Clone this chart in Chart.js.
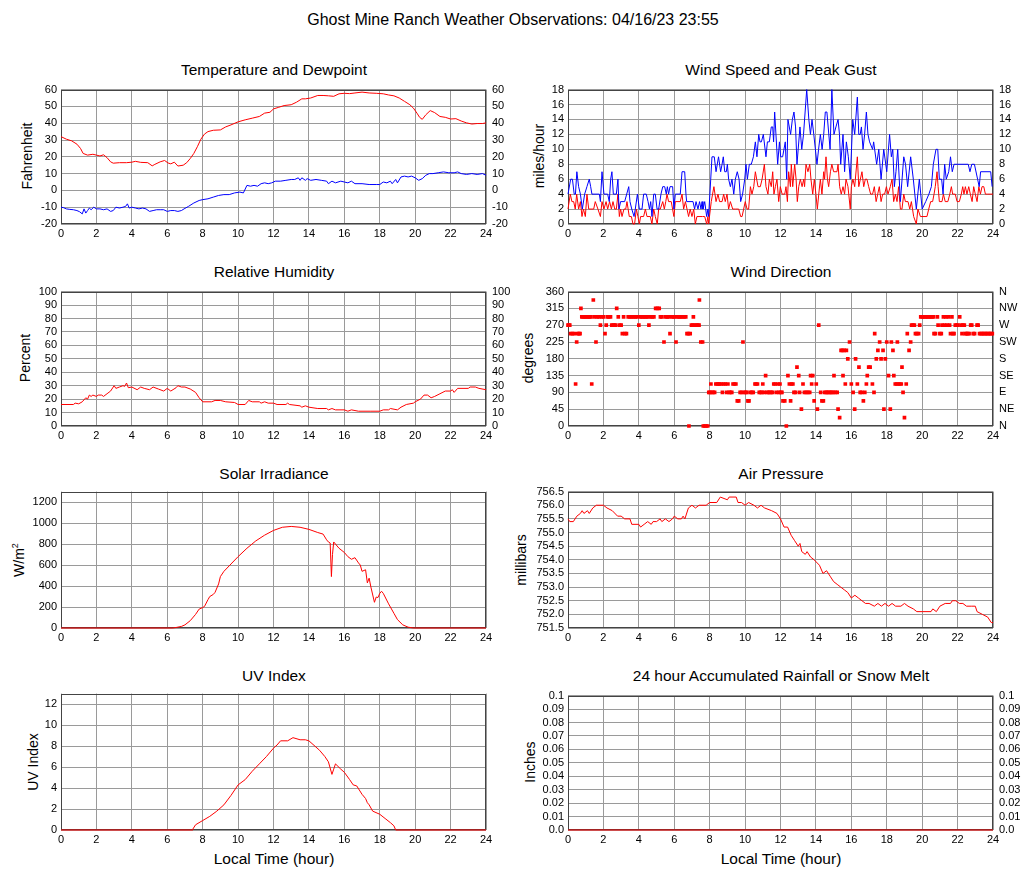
<!DOCTYPE html>
<html>
<head>
<meta charset="utf-8">
<title>Ghost Mine Ranch Weather Observations</title>
<script src="https://cdn.jsdelivr.net/npm/chart.js@4.4.0/dist/chart.umd.min.js"></script>
<style>
  html, body { margin: 0; padding: 0; background: #fff; }
  body { width: 1027px; height: 878px; position: relative; overflow: hidden;
         font-family: "Liberation Sans", Arial, Helvetica, sans-serif; color: #000; }
  canvas { position: absolute; }
  .lbl { position: absolute; white-space: nowrap; transform: translate(-50%, -50%); line-height: 1; }
  .main { font-size: 16px; }
  .ttl { font-size: 15.5px; }
  .ylab { font-size: 14px; transform: translate(-50%, -50%) rotate(-90deg); }
  .xlab { font-size: 15.5px; }
  sup { font-size: 9px; vertical-align: 6px; }
</style>
</head>
<body>

<div class="lbl main" style="left:513px; top:20px;">Ghost Mine Ranch Weather Observations: 04/16/23 23:55</div>

<div class="lbl ttl" style="left:274px; top:70px;">Temperature and Dewpoint</div>
<div class="lbl ttl" style="left:781px; top:70px;">Wind Speed and Peak Gust</div>
<div class="lbl ttl" style="left:274px; top:272px;">Relative Humidity</div>
<div class="lbl ttl" style="left:781px; top:272px;">Wind Direction</div>
<div class="lbl ttl" style="left:274px; top:474px;">Solar Irradiance</div>
<div class="lbl ttl" style="left:781px; top:474px;">Air Pressure</div>
<div class="lbl ttl" style="left:274px; top:676px;">UV Index</div>
<div class="lbl ttl" style="left:781px; top:676px;">24 hour Accumulated Rainfall or Snow Melt</div>

<div class="lbl ylab" style="left:27px; top:156px;">Fahrenheit</div>
<div class="lbl ylab" style="left:539px; top:156px;">miles/hour</div>
<div class="lbl ylab" style="left:25px; top:358px;">Percent</div>
<div class="lbl ylab" style="left:528px; top:358px;">degrees</div>
<div class="lbl ylab" style="left:18px; top:560px;">W/m<sup>2</sup></div>
<div class="lbl ylab" style="left:521px; top:560px;">millibars</div>
<div class="lbl ylab" style="left:33px; top:762px;">UV Index</div>
<div class="lbl ylab" style="left:530px; top:762px;">Inches</div>

<div class="lbl xlab" style="left:274px; top:859px;">Local Time (hour)</div>
<div class="lbl xlab" style="left:781px; top:859px;">Local Time (hour)</div>

<canvas id="chart-temp" width="512" height="167" style="left:0px; top:77px;"></canvas>
<canvas id="chart-wind" width="515" height="167" style="left:512px; top:77px;"></canvas>
<canvas id="chart-rh" width="512" height="167" style="left:0px; top:279px;"></canvas>
<canvas id="chart-dir" width="515" height="167" style="left:512px; top:279px;"></canvas>
<canvas id="chart-solar" width="512" height="167" style="left:0px; top:481px;"></canvas>
<canvas id="chart-pressure" width="515" height="167" style="left:512px; top:481px;"></canvas>
<canvas id="chart-uv" width="512" height="167" style="left:0px; top:683px;"></canvas>
<canvas id="chart-rain" width="515" height="167" style="left:512px; top:683px;"></canvas>

<script>
// ---- data: [hour, value] pairs ----
const hourTicks = [0, 2, 4, 6, 8, 10, 12, 14, 16, 18, 20, 22, 24];
const compassLabels = ['N', 'NE', 'E', 'SE', 'S', 'SW', 'W', 'NW', 'N'];

const temperature = [[0,32],[0.3,30.5],[0.6,29.5],[0.9,27.5],[1.1,25],[1.25,22],[1.5,21],[1.8,21.5],[2.0,21],[2.2,20.5],[2.4,21.2],[2.6,19.5],[2.8,17],[2.95,16.2],[3.3,16.5],[3.7,16.5],[4.0,16.8],[4.2,17.3],[4.5,16.7],[4.9,16.5],[5.15,14.6],[5.3,15.5],[5.6,17],[5.85,17.8],[6.05,16.3],[6.2,15.8],[6.4,16.8],[6.6,14.5],[6.9,15],[7.1,16.5],[7.3,19],[7.5,22],[7.7,26],[7.9,30.5],[8.1,33.5],[8.3,35],[8.6,35.8],[9.0,36],[9.3,37.8],[9.6,39],[10.0,40.8],[10.4,42],[10.8,43],[11.2,44],[11.5,46],[11.8,46.5],[12.0,48.5],[12.3,49.5],[12.6,50.5],[13.0,51],[13.3,52.5],[13.6,54.5],[13.8,54.5],[14.1,55],[14.5,56.5],[14.8,56.5],[15.1,56.3],[15.4,56],[15.7,57.5],[16.0,57.8],[16.3,57.6],[16.6,58],[17.0,58.5],[17.4,58],[17.8,57.8],[18.2,57.5],[18.5,56.8],[18.8,56.3],[19.1,55],[19.4,53],[19.7,51],[19.9,49],[20.1,46],[20.25,43.5],[20.4,42.3],[20.6,45],[20.85,47.5],[21.1,46.3],[21.4,44],[21.7,43.5],[22.0,42.5],[22.3,42.7],[22.6,41.3],[22.9,40.2],[23.2,39.5],[23.5,39.8],[23.8,39.8],[24.0,40.2]];

const dewpoint = [[0,-10],[0.15,-10.3],[0.3,-11],[0.5,-11.3],[0.7,-11.5],[0.9,-12],[1.05,-12.7],[1.2,-14],[1.3,-11],[1.4,-13.5],[1.5,-12],[1.6,-10.5],[1.7,-11.5],[1.85,-10],[2.0,-11],[2.2,-11],[2.4,-11.5],[2.6,-11],[2.8,-12.5],[2.95,-12],[3.1,-10],[3.3,-10.5],[3.5,-10],[3.65,-9.5],[3.75,-8],[3.85,-10.5],[4.0,-10],[4.2,-10.5],[4.4,-11],[4.6,-10.5],[4.8,-11],[5.0,-12.5],[5.2,-12],[5.4,-11.5],[5.6,-11.5],[5.8,-11.5],[6.0,-12.5],[6.2,-12],[6.4,-12],[6.6,-12.5],[6.8,-12],[6.95,-11],[7.2,-9.5],[7.5,-7.5],[7.8,-6],[8.0,-5.5],[8.3,-5],[8.6,-4],[8.9,-3],[9.2,-2.5],[9.5,-2.5],[9.8,-1.5],[10.1,-1],[10.3,-1.5],[10.5,3],[10.7,2.5],[10.9,3],[11.1,2.5],[11.3,4],[11.5,4.5],[11.7,4],[11.9,4.5],[12.1,5.5],[12.4,5.5],[12.7,6],[13.0,6.5],[13.2,6.5],[13.4,7.5],[13.5,6],[13.6,7.5],[13.8,6],[13.9,7],[14.1,6],[14.4,6.5],[14.7,6],[15.0,5.5],[15.1,4],[15.3,5.5],[15.5,4.5],[15.8,5.5],[16.0,5],[16.2,4.5],[16.4,5.5],[16.6,4],[17.0,4],[17.4,3.5],[17.8,3.5],[18.0,3.5],[18.2,5],[18.4,4.5],[18.6,5.5],[18.7,4],[18.9,6.5],[19.0,4.5],[19.2,8],[19.4,8.5],[19.6,8],[19.8,8.5],[20.0,7.5],[20.2,6],[20.4,7],[20.6,9],[20.8,10],[21.0,10],[21.3,10.5],[21.6,11],[21.9,10.5],[22.2,10.5],[22.4,11],[22.6,10],[22.9,9.5],[23.2,10],[23.5,9.5],[23.8,10],[24.0,9]];

const windGust = [[0,4],[0.15,6],[0.25,6],[0.35,4],[0.42,4],[0.5,7],[0.6,5],[0.7,4],[0.81,2],[0.94,4],[1.07,5],[1.2,6],[1.28,5],[1.35,4],[1.77,4],[1.83,3],[1.92,7],[2.03,4],[2.24,4],[2.33,3],[2.41,6],[2.48,7],[2.56,4],[2.73,4],[2.82,6],[2.88,2],[2.97,3],[3.2,3],[3.43,5],[3.5,3],[3.6,2],[3.73,1],[3.8,2],[3.92,4],[4.03,2],[4.18,2],[4.27,4],[4.42,4],[4.52,3],[4.6,2],[4.67,3],[4.74,1],[4.84,4],[4.93,4],[5.03,2],[5.12,2],[5.25,4],[5.35,5],[5.46,5],[5.55,4],[5.61,5],[5.68,4],[5.76,5],[5.91,5],[5.98,2],[6.06,4],[6.34,4],[6.44,7],[6.59,7],[6.66,4],[6.7,3],[7.06,3],[7.15,2],[7.23,3],[7.34,2],[7.43,3],[7.51,2],[7.57,3],[7.62,2],[7.72,3],[7.83,1],[7.9,2],[7.94,1],[8.06,6],[8.13,9],[8.26,9],[8.36,7],[8.5,9],[8.62,7],[8.7,8],[8.77,9],[8.85,7],[8.94,7],[9.0,8],[9.07,6],[9.17,5],[9.26,6],[9.36,4],[9.45,6],[9.56,7],[9.66,6],[9.75,3],[9.86,4],[9.98,6],[10.05,8],[10.13,6],[10.24,8],[10.35,8],[10.47,9],[10.58,11],[10.67,9],[10.77,12],[10.84,11],[10.92,11],[11.03,12],[11.18,9],[11.26,11],[11.37,11],[11.48,13],[11.56,13],[11.61,11],[11.67,15],[11.84,8],[11.94,11],[12.01,9],[12.12,9],[12.27,11],[12.35,6],[12.42,14],[12.57,12],[12.67,14],[12.76,15],[12.85,13],[12.93,8],[13.1,13],[13.2,10],[13.3,12],[13.48,18],[13.6,14],[13.69,12],[13.78,14],[13.88,12],[14.06,8],[14.15,10],[14.25,12],[14.35,10],[14.44,12],[14.53,15],[14.62,15],[14.8,10],[14.9,18],[15.02,12],[15.13,13],[15.25,14],[15.33,12],[15.4,8],[15.53,12],[15.62,7],[15.72,11],[15.83,9],[15.94,6],[16.08,14],[16.19,12],[16.34,17],[16.42,12],[16.5,12],[16.57,13],[16.66,10],[16.75,12],[16.85,15],[16.94,12],[17.03,11],[17.2,10],[17.26,11],[17.43,8],[17.55,10],[17.68,6],[17.83,10],[18.0,7],[18.16,12],[18.26,9],[18.34,10],[18.43,5],[18.52,7],[18.62,10],[18.77,3],[18.96,9],[19.06,8],[19.18,5],[19.35,9],[19.5,6],[19.67,2],[19.84,6],[20.0,2],[20.2,3],[20.38,4],[20.52,5],[20.63,8],[20.78,10],[20.88,10],[20.97,6],[21.1,6],[21.18,4],[21.27,8],[21.36,6],[21.5,7],[21.6,9],[21.7,7],[21.8,8],[22.6,8],[22.7,7],[22.8,8],[22.95,8],[23.13,6],[23.22,5],[23.3,7],[23.87,7],[23.95,5]];

const windSpeed = [[0,2],[0.13,4],[0.22,3],[0.32,3],[0.41,2],[0.49,4],[0.6,2],[0.7,3],[0.79,1],[0.87,2],[0.98,1],[1.07,4],[1.17,2],[1.45,2],[1.54,3],[1.69,2],[1.83,1],[1.92,3],[2.03,2],[2.15,3],[2.24,2],[2.35,3],[2.45,2],[2.54,3],[2.64,2],[2.73,2],[2.82,4],[2.9,1],[2.97,2],[3.05,1],[3.16,2],[3.26,2],[3.33,3],[3.46,1],[3.58,1],[3.67,0],[3.76,0],[3.86,2],[3.95,1],[4.03,0],[4.1,1],[4.27,1],[4.37,2],[4.46,1],[4.65,1],[4.74,0],[4.84,2],[4.93,1],[5.04,0],[5.12,2],[5.21,2],[5.35,3],[5.44,2],[5.52,3],[5.59,4],[5.68,3],[5.83,3],[5.98,1],[6.06,3],[6.34,3],[6.44,4],[6.53,2],[6.63,3],[6.72,2],[6.81,1],[6.9,2],[7.0,1],[7.1,2],[7.19,0],[7.28,1],[7.6,1],[7.72,1],[7.83,0],[7.9,1],[7.94,0],[8.09,3],[8.24,5],[8.36,3],[8.47,4],[8.56,3],[8.7,3],[8.79,4],[8.88,3],[8.98,4],[9.07,2],[9.17,3],[9.3,2],[9.45,2],[9.64,2],[9.75,1],[9.83,1],[9.92,2],[10.01,3],[10.11,2],[10.2,2],[10.3,5],[10.39,4],[10.49,5],[10.58,7],[10.73,5],[10.86,5],[10.96,6],[11.09,8],[11.18,5],[11.29,4],[11.37,6],[11.48,5],[11.56,7],[11.63,4],[11.71,5],[11.8,6],[11.9,3],[11.99,5],[12.09,4],[12.24,4],[12.31,5],[12.39,3],[12.46,7],[12.56,5],[12.61,8],[12.69,5],[12.8,8],[12.88,6],[12.95,3],[13.03,5],[13.12,6],[13.22,5],[13.31,6],[13.36,5],[13.44,8],[13.55,7],[13.65,8],[13.72,6],[13.82,4],[13.91,6],[14.0,4],[14.08,2],[14.16,4],[14.25,6],[14.34,4],[14.44,7],[14.49,6],[14.57,9],[14.65,6],[14.72,5],[14.82,7],[14.9,8],[15.0,7],[15.19,7],[15.25,8],[15.34,5],[15.43,4],[15.53,5],[15.62,4],[15.7,6],[15.81,5],[15.94,2],[16.0,5],[16.09,6],[16.19,5],[16.34,9],[16.42,5],[16.51,6],[16.6,7],[16.7,5],[16.79,6],[16.88,6],[16.98,5],[17.09,4],[17.2,4],[17.3,5],[17.4,3],[17.49,4],[17.58,5],[17.68,3],[17.77,4],[17.88,4],[17.98,5],[18.07,4],[18.2,5],[18.3,6],[18.39,3],[18.49,4],[18.58,3],[18.67,5],[18.77,2],[18.86,2],[18.96,4],[19.05,3],[19.2,3],[19.3,2],[19.39,3],[19.52,1],[19.67,0],[19.76,2],[19.9,1],[20.27,1],[20.37,2],[20.48,3],[20.59,3],[20.67,4],[20.74,5],[20.84,7],[20.9,5],[20.97,3],[21.12,3],[21.2,4],[21.3,3],[21.45,3],[21.56,4],[21.65,5],[21.72,4],[21.87,4],[21.97,3],[22.1,3],[22.21,4],[22.29,5],[22.36,4],[22.44,5],[22.53,4],[22.63,5],[22.72,4],[22.82,3],[22.91,5],[23.0,4],[23.1,3],[23.2,5],[23.29,4],[23.38,5],[23.48,5],[23.57,4],[23.67,4],[24.0,4]];

const humidity = [[0,16],[0.7,16],[0.8,17],[1.0,16.5],[1.2,18],[1.4,21],[1.5,20],[1.6,23],[1.7,22],[1.8,23],[2.0,22],[2.1,23],[2.3,23],[2.4,22],[2.6,24],[2.8,26],[3.0,30],[3.1,28],[3.3,29],[3.5,30],[3.6,29.5],[3.7,32],[3.8,28.5],[4.0,29],[4.3,27],[4.5,29],[4.7,28],[5.0,27],[5.2,29],[5.5,27.5],[5.8,26],[6.0,28],[6.2,26],[6.5,28.5],[6.6,30],[6.8,29],[7.0,29],[7.3,27.5],[7.6,25],[7.8,21],[8.0,18],[8.5,18],[8.7,19],[9.0,19],[9.3,18],[9.8,17.5],[10.0,16],[10.4,16],[10.6,19],[10.8,18],[11.2,18],[11.3,17],[11.5,18],[11.7,17],[12.0,17],[12.2,16],[12.7,16],[12.8,17],[12.9,16],[13.5,15],[13.6,14],[13.8,15],[14.0,14],[14.5,13],[15.0,13],[15.1,12],[15.3,13],[15.5,12],[16.0,12],[16.2,11],[16.4,12],[16.8,11],[17.5,11],[18.0,11],[18.2,12],[18.5,12],[18.6,13],[19.0,12],[19.2,14],[19.5,16],[19.9,17],[20.0,18],[20.3,20],[20.5,23],[20.7,23],[20.9,21],[21.1,22],[21.4,24],[21.7,26],[22.0,26],[22.1,27],[22.2,25],[22.4,28],[23.0,28],[23.1,29],[23.4,29],[23.6,28],[24.0,27]];

const windDirection = [[0,270],[0.05,270],[0.1,270],[0.15,247.5],[0.25,247.5],[0.35,247.5],[0.43,112.5],[0.49,225],[0.55,247.5],[0.62,247.5],[0.68,247.5],[0.73,315],[0.78,292.5],[0.85,292.5],[0.93,292.5],[1.0,292.5],[1.08,292.5],[1.15,292.5],[1.22,292.5],[1.3,292.5],[1.34,112.5],[1.43,337.5],[1.5,292.5],[1.58,225],[1.65,292.5],[1.75,292.5],[1.83,270],[1.9,292.5],[2.0,292.5],[2.09,247.5],[2.16,270],[2.22,292.5],[2.3,292.5],[2.4,292.5],[2.47,270],[2.55,270],[2.62,270],[2.7,270],[2.75,315],[2.84,292.5],[2.92,270],[3.0,270],[3.07,247.5],[3.14,292.5],[3.22,247.5],[3.3,247.5],[3.4,292.5],[3.5,292.5],[3.6,292.5],[3.7,292.5],[3.8,292.5],[3.9,292.5],[4.0,270],[4.08,292.5],[4.16,292.5],[4.25,292.5],[4.33,292.5],[4.42,292.5],[4.5,292.5],[4.57,270],[4.65,292.5],[4.75,292.5],[4.85,292.5],[4.95,315],[5.05,315],[5.15,315],[5.22,292.5],[5.3,292.5],[5.42,225],[5.5,292.5],[5.6,292.5],[5.68,292.5],[5.76,247.5],[5.85,292.5],[5.95,292.5],[6.02,292.5],[6.1,225],[6.18,292.5],[6.27,292.5],[6.35,292.5],[6.45,292.5],[6.55,292.5],[6.65,292.5],[6.72,247.5],[6.8,247.5],[6.83,0],[6.9,247.5],[6.97,270],[7.05,270],[7.08,292.5],[7.15,270],[7.25,270],[7.33,270],[7.4,270],[7.42,337.5],[7.5,225],[7.6,225],[7.64,0],[7.72,0],[7.8,0],[7.89,0],[7.95,90],[8.02,90],[8.07,112.5],[8.12,90],[8.2,90],[8.28,90],[8.35,112.5],[8.43,112.5],[8.5,112.5],[8.57,112.5],[8.65,112.5],[8.72,90],[8.8,112.5],[8.88,112.5],[8.96,90],[9.03,112.5],[9.1,90],[9.17,90],[9.25,90],[9.32,112.5],[9.4,112.5],[9.48,112.5],[9.56,67.5],[9.64,67.5],[9.72,90],[9.8,90],[9.88,225],[9.95,90],[10.03,90],[10.1,90],[10.16,67.5],[10.22,67.5],[10.3,90],[10.38,90],[10.46,90],[10.56,112.5],[10.62,112.5],[10.7,112.5],[10.8,90],[10.88,90],[10.95,90],[11.0,112.5],[11.08,90],[11.16,135],[11.24,90],[11.32,90],[11.4,90],[11.48,90],[11.56,90],[11.62,112.5],[11.7,112.5],[11.78,90],[11.86,112.5],[11.92,90],[11.97,112.5],[12.02,90],[12.08,90],[12.14,67.5],[12.24,67.5],[12.33,0],[12.42,135],[12.5,112.5],[12.57,67.5],[12.62,112.5],[12.7,112.5],[12.76,90],[12.85,90],[12.93,157.5],[13.03,135],[13.08,90],[13.18,45],[13.27,112.5],[13.35,90],[13.45,90],[13.55,90],[13.65,90],[13.7,135],[13.76,112.5],[13.82,135],[13.9,67.5],[14.02,112.5],[14.08,45],[14.16,270],[14.27,90],[14.34,67.5],[14.42,67.5],[14.5,90],[14.58,90],[14.66,90],[14.74,90],[14.82,90],[14.9,90],[14.98,90],[15.02,135],[15.1,90],[15.2,90],[15.25,45],[15.34,22.5],[15.42,202.5],[15.5,202.5],[15.53,135],[15.6,202.5],[15.66,112.5],[15.72,202.5],[15.8,180],[15.9,225],[16.0,112.5],[16.1,90],[16.19,45],[16.24,180],[16.34,112.5],[16.43,157.5],[16.5,90],[16.58,90],[16.68,67.5],[16.76,90],[16.85,112.5],[16.9,135],[16.98,157.5],[17.06,157.5],[17.19,112.5],[17.28,90],[17.32,247.5],[17.41,180],[17.5,202.5],[17.6,225],[17.68,180],[17.79,202.5],[17.84,45],[17.92,180],[18.0,225],[18.1,135],[18.2,45],[18.26,225],[18.35,202.5],[18.4,135],[18.48,112.5],[18.56,112.5],[18.6,225],[18.66,112.5],[18.74,112.5],[18.82,112.5],[18.86,157.5],[18.92,90],[19.0,22.5],[19.1,112.5],[19.16,247.5],[19.26,202.5],[19.35,225],[19.4,270],[19.48,270],[19.56,270],[19.62,247.5],[19.7,247.5],[19.8,247.5],[19.86,270],[19.92,292.5],[20.0,292.5],[20.08,292.5],[20.16,292.5],[20.24,292.5],[20.32,292.5],[20.4,292.5],[20.48,292.5],[20.56,292.5],[20.64,292.5],[20.67,247.5],[20.75,247.5],[20.86,292.5],[20.9,270],[21.0,247.5],[21.08,247.5],[21.12,270],[21.2,292.5],[21.26,270],[21.34,292.5],[21.4,270],[21.48,292.5],[21.55,270],[21.6,247.5],[21.68,292.5],[21.74,247.5],[21.8,247.5],[21.87,270],[21.95,270],[22.02,270],[22.12,292.5],[22.2,270],[22.25,247.5],[22.3,270],[22.38,270],[22.43,247.5],[22.5,247.5],[22.58,247.5],[22.65,247.5],[22.74,270],[22.8,270],[22.88,247.5],[22.96,247.5],[23.1,270],[23.16,270],[23.24,247.5],[23.32,247.5],[23.4,247.5],[23.48,247.5],[23.56,247.5],[23.64,247.5],[23.72,247.5],[23.8,247.5],[23.88,247.5],[23.96,247.5]];

const solar = [[0,0],[6.3,0],[6.5,5],[6.8,15],[7.0,30],[7.3,70],[7.6,130],[7.8,180],[8.0,195],[8.1,205],[8.3,270],[8.4,300],[8.6,320],[8.7,340],[8.9,420],[9.0,490],[9.2,540],[9.6,610],[10.0,680],[10.5,760],[11.0,830],[11.5,885],[12.0,930],[12.5,960],[13.0,968],[13.5,960],[14.0,940],[14.5,910],[14.8,895],[15.0,840],[15.1,820],[15.2,810],[15.27,490],[15.33,700],[15.4,820],[15.5,800],[15.7,760],[16.0,720],[16.2,680],[16.4,655],[16.6,670],[16.8,620],[16.9,600],[17.0,540],[17.2,555],[17.3,430],[17.4,475],[17.5,390],[17.7,245],[17.8,295],[17.9,290],[18.0,330],[18.1,350],[18.2,330],[18.5,230],[18.8,140],[19.0,80],[19.3,30],[19.6,8],[19.9,0],[24,0]];

const pressure = [[0,755.5],[0.1,755.4],[0.3,755.4],[0.5,755.6],[0.7,755.7],[0.8,755.8],[0.9,755.7],[1.1,755.8],[1.2,755.7],[1.4,755.9],[1.6,756.0],[2.0,756.0],[2.2,755.9],[2.5,755.8],[2.8,755.6],[3.0,755.6],[3.2,755.5],[3.5,755.5],[3.6,755.3],[4.0,755.3],[4.1,755.2],[4.3,755.3],[4.5,755.4],[4.7,755.3],[4.8,755.4],[5.0,755.4],[5.2,755.5],[5.3,755.4],[5.5,755.5],[5.7,755.4],[5.9,755.5],[6.0,755.6],[6.2,755.5],[6.4,755.5],[6.5,755.6],[6.6,755.5],[6.8,755.9],[7.0,756.0],[7.2,755.9],[7.4,756.0],[7.8,756.0],[8.0,756.1],[8.4,756.1],[8.6,756.3],[9.0,756.2],[9.1,756.3],[9.5,756.3],[9.6,756.1],[9.8,756.1],[10.0,756.0],[10.2,756.1],[10.5,756.0],[10.7,755.9],[10.9,756.0],[11.1,755.9],[11.5,755.8],[11.8,755.7],[12.0,755.5],[12.2,755.2],[12.4,755.2],[12.6,754.9],[12.8,754.7],[13.0,754.5],[13.1,754.6],[13.2,754.3],[13.4,754.2],[13.5,754.3],[13.7,754.1],[13.9,754.0],[14.2,753.8],[14.4,753.5],[14.6,753.6],[14.8,753.4],[15.0,753.2],[15.2,753.1],[15.4,753.0],[15.6,752.9],[15.8,752.8],[16.0,752.6],[16.2,752.7],[16.4,752.6],[16.6,752.5],[16.8,752.4],[17.0,752.4],[17.3,752.3],[17.5,752.4],[17.7,752.3],[17.9,752.4],[18.1,752.3],[18.3,752.4],[18.5,752.3],[18.8,752.3],[19.0,752.4],[19.2,752.3],[19.5,752.2],[19.7,752.1],[20.0,752.1],[20.5,752.1],[20.6,752.2],[20.8,752.1],[21.0,752.3],[21.3,752.4],[21.6,752.4],[21.7,752.5],[21.9,752.5],[22.1,752.4],[22.3,752.4],[22.5,752.3],[22.8,752.3],[23.0,752.3],[23.1,752.1],[23.4,752.0],[23.7,751.9],[23.9,751.7],[24.0,751.7]];

const uvIndex = [[0,0],[7.4,0],[7.45,0.1],[7.6,0.5],[8.0,0.9],[8.4,1.3],[8.8,1.8],[9.2,2.4],[9.6,3.3],[10.0,4.3],[10.4,4.8],[10.8,5.6],[11.2,6.3],[11.6,7.0],[12.0,7.8],[12.2,8.1],[12.4,8.5],[12.8,8.5],[13.1,8.8],[13.5,8.6],[13.8,8.6],[14.0,8.5],[14.4,7.9],[14.6,7.6],[14.9,7.0],[15.1,6.5],[15.3,5.3],[15.4,5.8],[15.5,6.3],[15.8,5.8],[16.0,5.5],[16.3,4.8],[16.5,4.3],[16.7,4.2],[17.0,3.4],[17.2,3.0],[17.3,2.6],[17.4,2.4],[17.6,1.8],[18.0,1.5],[18.3,1.1],[18.6,0.7],[18.8,0.4],[18.9,0],[24,0]];

const rainfall = [[0,0],[6,0],[12,0],[18,0],[24,0]];

// ---- drawing ----
const FONT = { family: '"Liberation Sans", Arial, Helvetica, sans-serif', size: 11 };
const GRID = '#9a9a9a';

function toPoints(pairs) {
    return pairs.map(p => ({ x: p[0], y: p[1] }));
}

// thin dark frame round the plot area, under the data
const framePlugin = {
    id: 'frame',
    beforeDatasetsDraw(chart) {
        const { ctx, chartArea: a } = chart;
        ctx.save();
        ctx.strokeStyle = '#444';
        ctx.lineWidth = 1;
        ctx.strokeRect(Math.round(a.left) + 0.5, Math.round(a.top) + 0.5,
                       Math.round(a.width) - 1, Math.round(a.height) - 1);
        ctx.restore();
    }
};

function lineSet(pairs, color) {
    return {
        data: toPoints(pairs),
        borderColor: color,
        borderWidth: 1,
        pointRadius: 0,
        tension: 0,
        fill: false,
        clip: 3
    };
}

function makeChart(id, datasets, cfg) {
    const ctx = document.getElementById(id).getContext('2d');
    const fmt = cfg.format || (v => String(v));
    return new Chart(ctx, {
        type: 'line',
        data: { datasets: datasets },
        plugins: [framePlugin],
        options: {
            responsive: false,
            animation: false,
            devicePixelRatio: 1,
            layout: { padding: { top: 10, left: 0, right: 0, bottom: 0 } },
            plugins: { legend: { display: false }, tooltip: { enabled: false } },
            scales: {
                x: {
                    type: 'linear', min: 0, max: 24,
                    afterBuildTicks: s => { s.ticks = hourTicks.map(v => ({ value: v })); },
                    ticks: { font: FONT, color: '#000', padding: 3, maxRotation: 0, autoSkip: false },
                    grid: { color: GRID, drawTicks: false },
                    border: { display: false },
                    afterFit: s => { s.height = 20; }
                },
                y: {
                    position: 'left', min: cfg.min, max: cfg.max,
                    ticks: { stepSize: cfg.step, includeBounds: false, autoSkip: false,
                             font: FONT, color: '#000', padding: 4, callback: v => fmt(v) },
                    grid: { color: GRID, drawTicks: false },
                    border: { display: false },
                    afterFit: s => { s.width = cfg.leftW; }
                },
                y2: {
                    position: 'right', min: cfg.min, max: cfg.max,
                    ticks: { stepSize: cfg.step, includeBounds: false, autoSkip: false,
                             font: FONT, color: '#000', padding: 6, display: !!cfg.right,
                             callback: v => (typeof cfg.right === 'function' ? cfg.right(v) : fmt(v)) },
                    grid: { display: false, drawTicks: false },
                    border: { display: false },
                    afterFit: s => { s.width = cfg.rightW; }
                }
            }
        }
    });
}

const LEFT = { leftW: 61, rightW: 26 };
const RIGHT = { leftW: 56, rightW: 34 };

makeChart('chart-temp', [lineSet(temperature, '#ff0000'), lineSet(dewpoint, '#0000ff')],
    Object.assign({ min: -20, max: 60, step: 10, right: true }, LEFT));

makeChart('chart-wind', [lineSet(windGust, '#0000ff'), lineSet(windSpeed, '#ff0000')],
    Object.assign({ min: 0, max: 18, step: 2, right: true }, RIGHT));

makeChart('chart-rh', [lineSet(humidity, '#ff0000')],
    Object.assign({ min: 0, max: 100, step: 10, right: true }, LEFT));

makeChart('chart-dir', [{
        data: toPoints(windDirection),
        showLine: false,
        pointStyle: 'rect',
        pointRadius: 2.6,
        pointBorderWidth: 0,
        pointBackgroundColor: '#ff0000',
        borderColor: '#ff0000',
        clip: 4
    }],
    Object.assign({ min: 0, max: 360, step: 45,
        right: v => compassLabels[Math.round(v / 45)] }, RIGHT));

makeChart('chart-solar', [lineSet(solar, '#ff0000')],
    Object.assign({ min: 0, max: 1300, step: 200, right: false }, LEFT));

makeChart('chart-pressure', [lineSet(pressure, '#ff0000')],
    Object.assign({ min: 751.5, max: 756.5, step: 0.5, right: false,
        format: v => v.toFixed(1) }, RIGHT));

makeChart('chart-uv', [lineSet(uvIndex, '#ff0000')],
    Object.assign({ min: 0, max: 13, step: 2, right: false }, LEFT));

makeChart('chart-rain', [lineSet(rainfall, '#ff0000')],
    Object.assign({ min: 0, max: 0.1, step: 0.01, right: true,
        format: v => { const r = Math.round(v * 100) / 100; return r === 0 ? '0.0' : String(r); } }, RIGHT));
</script>
</body>
</html>
